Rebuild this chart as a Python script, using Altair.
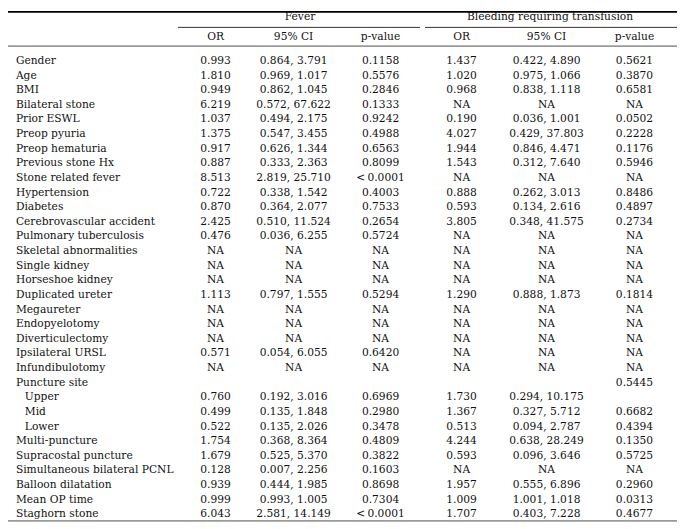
import altair as alt
import pandas as pd

# ---------------- data ----------------
labels = [
    "Gender", "Age", "BMI", "Bilateral stone", "Prior ESWL", "Preop pyuria",
    "Preop hematuria", "Previous stone Hx", "Stone related fever", "Hypertension",
    "Diabetes", "Cerebrovascular accident", "Pulmonary tuberculosis",
    "Skeletal abnormalities", "Single kidney", "Horseshoe kidney",
    "Duplicated ureter", "Megaureter", "Endopyelotomy", "Diverticulectomy",
    "Ipsilateral URSL", "Infundibulotomy", "Puncture site", "Upper", "Mid", "Lower",
    "Multi-puncture", "Supracostal puncture", "Simultaneous bilateral PCNL",
    "Balloon dilatation", "Mean OP time", "Staghorn stone",
]
sub_rows = ["Upper", "Mid", "Lower"]

fever_or = ["0.993", "1.810", "0.949", "6.219", "1.037", "1.375", "0.917", "0.887",
            "8.513", "0.722", "0.870", "2.425", "0.476", "NA", "NA", "NA", "1.113",
            "NA", "NA", "NA", "0.571", "NA", "", "0.760", "0.499", "0.522", "1.754",
            "1.679", "0.128", "0.939", "0.999", "6.043"]
fever_ci = ["0.864, 3.791", "0.969, 1.017", "0.862, 1.045", "0.572, 67.622",
            "0.494, 2.175", "0.547, 3.455", "0.626, 1.344", "0.333, 2.363",
            "2.819, 25.710", "0.338, 1.542", "0.364, 2.077", "0.510, 11.524",
            "0.036, 6.255", "NA", "NA", "NA", "0.797, 1.555", "NA", "NA", "NA",
            "0.054, 6.055", "NA", "", "0.192, 3.016", "0.135, 1.848", "0.135, 2.026",
            "0.368, 8.364", "0.525, 5.370", "0.007, 2.256", "0.444, 1.985",
            "0.993, 1.005", "2.581, 14.149"]
fever_p = ["0.1158", "0.5576", "0.2846", "0.1333", "0.9242", "0.4988", "0.6563",
           "0.8099", "<\u20090.0001", "0.4003", "0.7533", "0.2654", "0.5724", "NA", "NA",
           "NA", "0.5294", "NA", "NA", "NA", "0.6420", "NA", "", "0.6969", "0.2980",
           "0.3478", "0.4809", "0.3822", "0.1603", "0.8698", "0.7304", "<\u20090.0001"]
bleed_or = ["1.437", "1.020", "0.968", "NA", "0.190", "4.027", "1.944", "1.543",
            "NA", "0.888", "0.593", "3.805", "NA", "NA", "NA", "NA", "1.290", "NA",
            "NA", "NA", "NA", "NA", "", "1.730", "1.367", "0.513", "4.244", "0.593",
            "NA", "1.957", "1.009", "1.707"]
bleed_ci = ["0.422, 4.890", "0.975, 1.066", "0.838, 1.118", "NA", "0.036, 1.001",
            "0.429, 37.803", "0.846, 4.471", "0.312, 7.640", "NA", "0.262, 3.013",
            "0.134, 2.616", "0.348, 41.575", "NA", "NA", "NA", "NA", "0.888, 1.873",
            "NA", "NA", "NA", "NA", "NA", "", "0.294, 10.175", "0.327, 5.712",
            "0.094, 2.787", "0.638, 28.249", "0.096, 3.646", "NA", "0.555, 6.896",
            "1.001, 1.018", "0.403, 7.228"]
bleed_p = ["0.5621", "0.3870", "0.6581", "NA", "0.0502", "0.2228", "0.1176", "0.5946",
           "NA", "0.8486", "0.4897", "0.2734", "NA", "NA", "NA", "NA", "0.1814", "NA",
           "NA", "NA", "NA", "NA", "0.5445", "", "0.6682", "0.4394", "0.1350", "0.5725",
           "NA", "0.2960", "0.0313", "0.4677"]

col_keys = ["f_or", "f_ci", "f_p", "b_or", "b_ci", "b_p"]
col_heads = ["OR", "95% CI", "p-value", "OR", "95% CI", "p-value"]
groups = ["Fever", "Bleeding requiring transfusion"]

# ---------------- layout (styling) ----------------
W, H = 677, 521
FONT = "DejaVu Serif"
FS = 10.8
INK = "#111111"
col_px = [210, 289, 377, 459, 545, 634]          # column centres (chart px)
pitch, row0 = 14.8, 50.5                           # row spacing, y of first row
y_dom = [-row0 / pitch, (H - row0) / pitch]
yscale = alt.Scale(domain=y_dom, range=[0, H], zero=False, nice=False)
xscale = alt.Scale(domain=[0, W], range=[0, W], zero=False, nice=False)

# expression mapping a column key to its centre
pos_expr = "[{}][indexof([{}], datum.col)]".format(
    ",".join(str(p) for p in col_px), ",".join("'%s'" % k for k in col_keys))

# ---------------- tables ----------------
series = [fever_or, fever_ci, fever_p, bleed_or, bleed_ci, bleed_p]
cells = []
for i, lab in enumerate(labels):
    for k, s in zip(col_keys, series):
        cells.append({"row": i, "col": k, "txt": s[i]})
cells_df = pd.DataFrame(cells)

lab_df = pd.DataFrame({"row": list(range(len(labels))), "label": labels,
                       "sub": [l in sub_rows for l in labels]})
head_df = pd.DataFrame({"row": [-1.66] * 6, "col": col_keys, "txt": col_heads})

grp_x = [(col_px[0] + col_px[2]) / 2 + 2, (col_px[3] + col_px[5]) / 2 + 2]

base_text = dict(font=FONT, fontSize=FS, color=INK, baseline="middle")

Y = alt.Y("row:Q", scale=yscale, axis=None)
X = alt.X("cx:Q", scale=xscale, axis=None)

values = alt.Chart(cells_df).transform_calculate(cx=pos_expr).mark_text(
    align="center", **base_text).encode(x=X, y=Y, text="txt:N")

heads = alt.Chart(head_df).transform_calculate(cx=pos_expr).mark_text(
    align="center", **base_text).encode(x=X, y=Y, text="txt:N")

main_labels = alt.Chart(lab_df).transform_filter("!datum.sub").mark_text(
    align="left", **base_text).encode(x=alt.value(8), y=Y, text="label:N")
sub_labels = alt.Chart(lab_df).transform_filter("datum.sub").mark_text(
    align="left", **base_text).encode(x=alt.value(17), y=Y, text="label:N")

grp_layers = [
    alt.Chart(pd.DataFrame({"row": [-3.0], "g": [g]})).mark_text(
        align="center", **base_text).encode(x=alt.value(gx), y=Y, text="g:N")
    for g, gx in zip(groups, grp_x)
]

def rule(x1, x2, y, color, w):
    return alt.Chart(pd.DataFrame({"a": [0]})).mark_rule(
        color=color, strokeWidth=w).encode(
        x=alt.value(x1), x2=alt.value(x2), y=alt.value(y))

rules = [
    rule(0, W, 0.8, "#000000", 1.6),
    rule(172, 417, 16.5, "#333333", 1),
    rule(422, W, 16.5, "#333333", 1),
    rule(0, W, 35.5, "#9a9a9a", 1.8),
    rule(0, W, 516, "#9a9a9a", 1.8),
]

chart = alt.layer(*rules, values, heads, main_labels, sub_labels, *grp_layers).properties(
    width=W, height=H, padding=0, autosize=alt.AutoSizeParams(type="none"),
    background="white",
).configure_view(stroke=None)

chart.save("out.html", embed_options={"renderer": "svg", "actions": False})
